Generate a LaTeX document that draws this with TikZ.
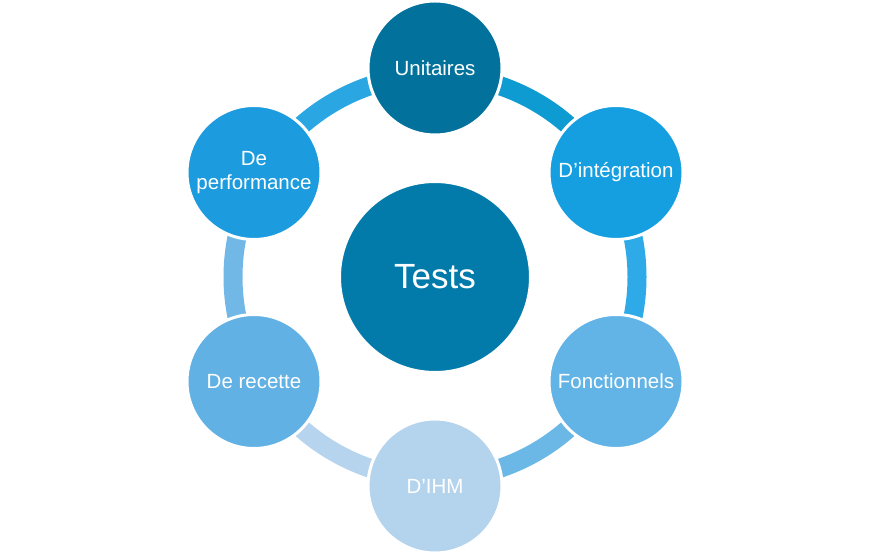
\documentclass[tikz,border=0pt]{standalone}
\usepackage{fontspec}
\setmainfont{Liberation Sans}
\usetikzlibrary{calc}
\definecolor{cCenter}{RGB}{2,123,171}
\definecolor{cUnit}{RGB}{2,114,157}
\definecolor{cInt}{RGB}{21,159,224}
\definecolor{cFonc}{RGB}{98,179,230}
\definecolor{cIHM}{RGB}{180,211,236}
\definecolor{cRec}{RGB}{98,177,228}
\definecolor{cPerf}{RGB}{28,155,222}
\definecolor{sUI}{RGB}{14,155,210}
\definecolor{sIF}{RGB}{46,170,232}
\definecolor{sFH}{RGB}{107,183,230}
\definecolor{sHR}{RGB}{182,212,238}
\definecolor{sRP}{RGB}{114,184,230}
\definecolor{sPU}{RGB}{42,167,226}
\tikzset{
  outer/.style={circle, inner sep=0pt, minimum size=134pt, draw=white, line width=3pt,
    text=white, align=center, font=\fontsize{20.5}{24}\selectfont},
  centre/.style={circle, inner sep=0pt, minimum size=190pt, draw=white, line width=2pt,
    text=white, font=\fontsize{35}{40}\selectfont},
  ring/.style={line width=19pt}
}
\begin{document}
\begin{tikzpicture}[x=1pt,y=1pt]
\useasboundingbox (0,0) rectangle (869,554);
\coordinate (C) at (435,277);
% ring segments
\draw[ring, sUI] (C) ++(90:202) arc[start angle=90, end angle=30, radius=202];
\draw[ring, sIF] (C) ++(30:202) arc[start angle=30, end angle=-30, radius=202];
\draw[ring, sFH] (C) ++(-30:202) arc[start angle=-30, end angle=-90, radius=202];
\draw[ring, sHR] (C) ++(-90:202) arc[start angle=-90, end angle=-150, radius=202];
\draw[ring, sRP] (C) ++(-150:202) arc[start angle=-150, end angle=-210, radius=202];
\draw[ring, sPU] (C) ++(150:202) arc[start angle=150, end angle=90, radius=202];
% circles
\node[centre, fill=cCenter] (c) at (C) {Tests};
\node[outer, fill=cUnit] (u) at ($(C)+(90:209)$) {Unitaires};
\node[outer, fill=cInt] (i) at ($(C)+(30:209)$) {D’intégration};
\node[outer, fill=cFonc] (f) at ($(C)+(-30:209)$) {Fonctionnels};
\node[outer, fill=cIHM] (h) at ($(C)+(-90:209)$) {D’IHM};
\node[outer, fill=cRec] (r) at ($(C)+(-150:209)$) {De recette};
\node[outer, fill=cPerf] (p) at ($(C)+(150:209)$) {De\\performance};
\end{tikzpicture}
\end{document}
